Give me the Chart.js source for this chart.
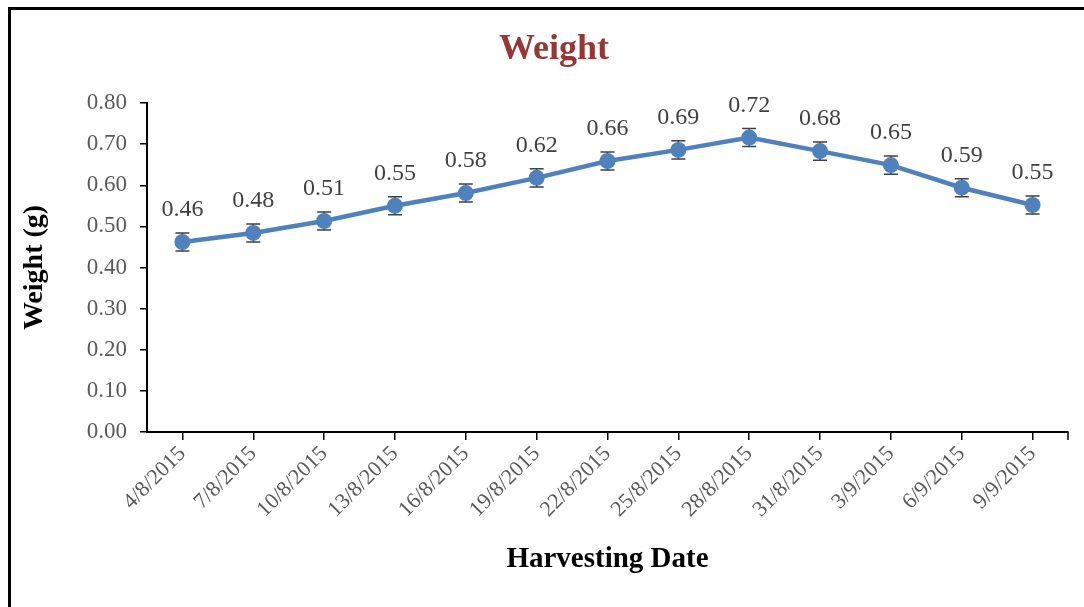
<!DOCTYPE html>
<html>
<head>
<meta charset="utf-8">
<script src="https://cdn.jsdelivr.net/npm/chart.js@4/dist/chart.umd.min.js"></script>
<style>
  html, body { margin: 0; padding: 0; background: #fff; }
  #wrap { width: 1084px; height: 607px; }
</style>
</head>
<body>
<div id="wrap"><canvas id="weight" width="1084" height="607"></canvas></div>
<script>
let dates = ["4/8/2015", "7/8/2015", "10/8/2015", "13/8/2015", "16/8/2015", "19/8/2015", "22/8/2015",
    "25/8/2015", "28/8/2015", "31/8/2015", "3/9/2015", "6/9/2015", "9/9/2015"];
let weights = [0.462, 0.484, 0.513, 0.55, 0.581, 0.618, 0.659, 0.686, 0.716, 0.683, 0.649, 0.594, 0.552];
let errors = [0.022, 0.022, 0.022, 0.022, 0.022, 0.022, 0.022, 0.022, 0.022, 0.022, 0.022, 0.022, 0.022];
let yTicks = [0, 0.1, 0.2, 0.3, 0.4, 0.5, 0.6, 0.7, 0.8];
let chartTitle = "Weight";

const serif = "'Liberation Serif', 'Times New Roman', serif";

// black frame on top and left, like the cropped source
let framePlugin = {
    id: "frame",
    beforeDraw(chart) {
        let ctx = chart.ctx;
        ctx.save();
        ctx.fillStyle = "#fff";
        ctx.fillRect(0, 0, chart.width, chart.height);
        ctx.fillStyle = "#000";
        ctx.fillRect(8, 7, chart.width - 8, 3);
        ctx.fillRect(8, 7, 3, chart.height - 7);
        ctx.restore();
    },
    afterDraw(chart) {
        // title sits a bit right of the canvas centre in the source
        let ctx = chart.ctx;
        ctx.save();
        ctx.font = "bold 36px " + serif;
        ctx.fillStyle = "#953735";
        ctx.textAlign = "center";
        ctx.textBaseline = "middle";
        ctx.fillText(chartTitle, 554, 50);
        // closing tick at the right end of the x axis
        let a = chart.chartArea;
        ctx.strokeStyle = "#000";
        ctx.lineWidth = 1.5;
        ctx.beginPath();
        ctx.moveTo(a.right, a.bottom);
        ctx.lineTo(a.right, a.bottom + 8);
        ctx.stroke();
        ctx.restore();
    }
};

let errorBars = {
    id: "errorBars",
    beforeDatasetsDraw(chart) {
        let ctx = chart.ctx;
        let x = chart.scales.x, y = chart.scales.y;
        ctx.save();
        ctx.strokeStyle = "#404040";
        ctx.lineWidth = 1.5;
        weights.forEach(function (v, i) {
            let px = x.getPixelForValue(i);
            let top = y.getPixelForValue(v + errors[i]);
            let bot = y.getPixelForValue(v - errors[i]);
            ctx.beginPath();
            ctx.moveTo(px, top); ctx.lineTo(px, bot);
            ctx.moveTo(px - 7, top); ctx.lineTo(px + 7, top);
            ctx.moveTo(px - 7, bot); ctx.lineTo(px + 7, bot);
            ctx.stroke();
        });
        ctx.restore();
    }
};

let valueLabels = {
    id: "valueLabels",
    afterDatasetsDraw(chart) {
        let ctx = chart.ctx;
        let meta = chart.getDatasetMeta(0);
        ctx.save();
        ctx.font = "24px " + serif;
        ctx.fillStyle = "#404040";
        ctx.textAlign = "center";
        ctx.textBaseline = "middle";
        meta.data.forEach(function (pt, i) {
            ctx.fillText(weights[i].toFixed(2), pt.x, pt.y - 32);
        });
        ctx.restore();
    }
};

let weightChart = new Chart(document.getElementById("weight").getContext("2d"), {
    type: "line",
    data: {
        labels: dates,
        datasets: [{
            data: weights,
            borderColor: "#4F81BD",
            backgroundColor: "#4F81BD",
            borderWidth: 4.5,
            pointRadius: 8,
            pointBorderWidth: 0,
            pointBackgroundColor: "#4F81BD",
            tension: 0
        }]
    },
    options: {
        responsive: false,
        animation: false,
        layout: { padding: { left: 14, right: 16, top: 103, bottom: 0 } },
        plugins: {
            legend: { display: false },
            tooltip: { enabled: false },
            title: { display: false }
        },
        scales: {
            x: {
                offset: true,
                grid: { drawOnChartArea: false, offset: false, tickLength: 8, color: "#000", lineWidth: 1.5 },
                border: { color: "#000", width: 2 },
                ticks: {
                    color: "#595959",
                    font: { family: serif, size: 22 },
                    maxRotation: 45,
                    minRotation: 45,
                    padding: 1,
                    autoSkip: false
                },
                title: {
                    display: true,
                    text: "Harvesting Date",
                    color: "#000",
                    font: { family: serif, size: 29, weight: "bold" },
                    padding: { top: 0, bottom: 30 }
                },
                afterFit(scale) { scale.height = 175; }
            },
            y: {
                min: 0,
                max: 0.8,
                grid: { drawOnChartArea: false, tickLength: 7, color: "#000", lineWidth: 1.5 },
                border: { color: "#000", width: 2 },
                afterBuildTicks(scale) { scale.ticks = yTicks.map(v => ({ value: v })); },
                ticks: {
                    color: "#595959",
                    font: { family: serif, size: 23 },
                    padding: 13,
                    callback: v => v.toFixed(2)
                },
                title: {
                    display: true,
                    text: "Weight (g)",
                    color: "#000",
                    font: { family: serif, size: 28, weight: "bold" },
                    padding: { top: 4, bottom: 0 }
                },
                afterFit(scale) { scale.width = 133; }
            }
        }
    },
    plugins: [framePlugin, errorBars, valueLabels]
});
</script>
</body>
</html>
